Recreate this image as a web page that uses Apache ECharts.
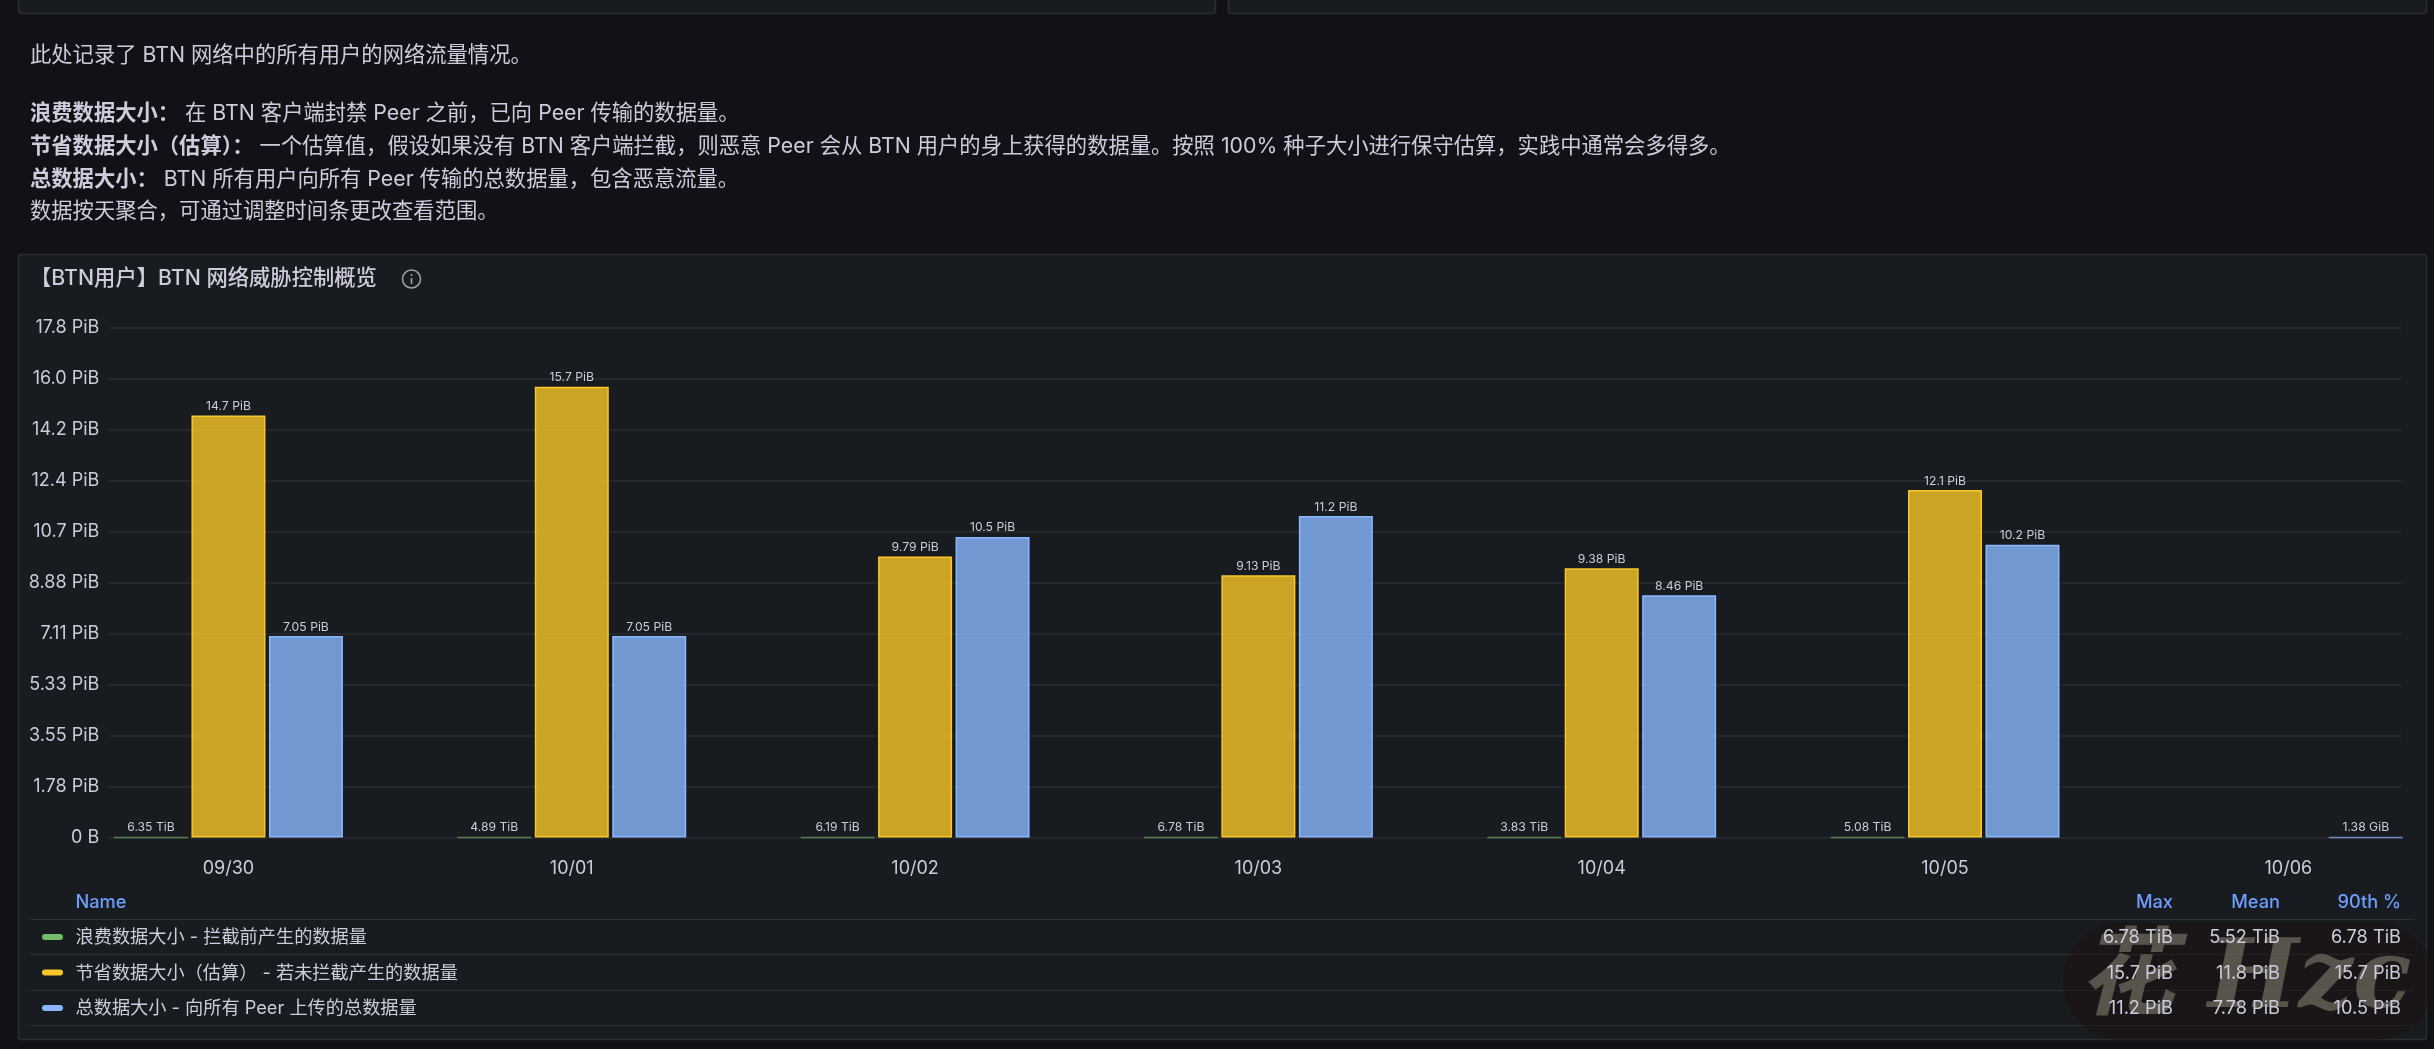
<!DOCTYPE html>
<html>
<head>
<meta charset="utf-8">
<style>html,body{margin:0;padding:0;background:#111217;overflow:hidden}#c{width:2434px;height:1049px}</style>
<script src="https://cdn.jsdelivr.net/npm/echarts@6/dist/echarts.min.js"></script>
</head>
<body>
<div id="c"></div>
<script>
const categories = ['09/30','10/01','10/02','10/03','10/04','10/05','10/06'];
const wastedTiB = [6.35,4.89,6.19,6.78,3.83,5.08,null];
const savedPiB = [14.7,15.7,9.79,9.13,9.38,12.1,null];
const totalPiB = [7.02,7.02,10.47,11.2,8.44,10.2,0.00000132];
const wastedLabels = ['6.35 TiB','4.89 TiB','6.19 TiB','6.78 TiB','3.83 TiB','5.08 TiB',''];
const savedLabels = ['14.7 PiB','15.7 PiB','9.79 PiB','9.13 PiB','9.38 PiB','12.1 PiB',''];
const totalLabels = ['7.05 PiB','7.05 PiB','10.5 PiB','11.2 PiB','8.46 PiB','10.2 PiB','1.38 GiB'];
const yTickLabels = ['0 B','1.78 PiB','3.55 PiB','5.33 PiB','7.11 PiB','8.88 PiB','10.7 PiB','12.4 PiB','14.2 PiB','16.0 PiB','17.8 PiB'];
const legendNames = ['浪费数据大小 - 拦截前产生的数据量','节省数据大小\uFF08估算\uFF09 - 若未拦截产生的数据量','总数据大小 - 向所有 Peer 上传的总数据量'];
const legendMax = ['6.78 TiB','15.7 PiB','11.2 PiB'];
const legendMean = ['5.52 TiB','11.8 PiB','7.78 PiB'];
const legendP90 = ['6.78 TiB','15.7 PiB','10.5 PiB'];
const legendHeaders = ['Name','Max','Mean','90th %'];
const intro = [
  [56, '', '此处记录了 BTN 网络中的所有用户的网络流量情况。'],
  [114, '浪费数据大小\uFF1A', ' 在 BTN 客户端封禁 Peer 之前\uFF0C已向 Peer 传输的数据量。'],
  [147, '节省数据大小\uFF08估算\uFF09\uFF1A', ' 一个估算值\uFF0C假设如果没有 BTN 客户端拦截\uFF0C则恶意 Peer 会从 BTN 用户的身上获得的数据量。按照 100% 种子大小进行保守估算\uFF0C实践中通常会多得多。'],
  [180, '总数据大小\uFF1A', ' BTN 所有用户向所有 Peer 传输的总数据量\uFF0C包含恶意流量。'],
  [212, '', '数据按天聚合\uFF0C可通过调整时间条更改查看范围。']
];
const panelTitle = '【BTN用户】BTN 网络威胁控制概览';
const yStep = 1.7763568394;

const FONT = "Inter, 'Noto Sans CJK SC', sans-serif";
const TEXT = '#ccccdc';
const GRIDC = 'rgba(204,204,220,0.10)';
const COLORS = ['#73bf69','#f9c728','#8ab8ff'];
const FILLS = ['rgba(115,191,105,0.8)','rgba(249,199,40,0.8)','rgba(138,184,255,0.8)'];

const gfx = [];
const panel = (x,y,w,h) => gfx.push({type:'rect',z:-20,shape:{x:x+.5,y:y+.5,width:w,height:h,r:3},style:{fill:'#181b1f',stroke:'#2b2d33',lineWidth:1.5}});
panel(18,-20,1197,33);
panel(1228,-20,1198,33);
panel(18,254,2408,785);
intro.forEach(r => gfx.push({type:'text',z:10,x:30,y:r[0],style:{
  text:(r[1]?'{b|'+r[1]+'}':'')+'{n|'+r[2]+'}',verticalAlign:'middle',
  rich:{b:{fontFamily:FONT,fontSize:21.3,fontWeight:600,fill:TEXT,color:TEXT},n:{fontFamily:FONT,fontSize:21.3,fontWeight:400,fill:TEXT,color:TEXT}}
}}));
gfx.push({type:'text',z:10,x:30,y:279,style:{text:panelTitle,font:"500 21.3px "+FONT,fill:TEXT,verticalAlign:'middle'}});
gfx.push({type:'circle',z:10,shape:{cx:411.5,cy:279,r:9},style:{fill:'none',stroke:'#a0a1aa',lineWidth:1.5}});
gfx.push({type:'rect',z:10,shape:{x:410.7,y:278,width:1.6,height:6},style:{fill:'#a0a1aa'}});
gfx.push({type:'circle',z:10,shape:{cx:411.5,cy:275,r:1},style:{fill:'#a0a1aa'}});

const sepY = [919.5,954.5,990.5,1025.5];
sepY.forEach(y => gfx.push({type:'rect',z:1,shape:{x:30,y:y-.5,width:2384,height:1},style:{fill:'rgba(204,204,220,0.12)'}}));
const rowY = [937,972.5,1008];
const TEXTDY = 1;
const colR = [2173,2280,2401];
const label = (s,x,y,align,fill,w) => gfx.push({type:'text',z:60,x:x,y:y+TEXTDY,style:{text:s,font:(w||400)+" 18.2px "+FONT,fill:fill||TEXT,align:align,verticalAlign:'middle'}});
label(legendHeaders[0],75.5,902,'left','#6e9fff',500);
colR.forEach((x,i)=>label(legendHeaders[i+1],x,902,'right','#6e9fff',500));
legendNames.forEach((n,i)=>{
  gfx.push({type:'rect',z:10,shape:{x:42,y:rowY[i]-3,width:21,height:6,r:3},style:{fill:COLORS[i]}});
  label(n,75.5,rowY[i],'left');
  label(legendMax[i],colR[0],rowY[i],'right');
  label(legendMean[i],colR[1],rowY[i],'right');
  label(legendP90[i],colR[2],rowY[i],'right');
});
// watermark
gfx.push({type:'rect',z:40,shape:{x:2063,y:923,width:371,height:117,r:58},style:{fill:'rgba(28,18,18,0.5)'}});
gfx.push({type:'text',z:41,x:2245,y:982,style:{text:'花 Hzc',font:"italic 700 96px 'DejaVu Serif','Noto Sans CJK SC',serif",fill:'rgba(150,145,125,0.5)',align:'center',verticalAlign:'middle'}});

const mk = (name,vals,idx,labels,tinyBorder) => ({
  type:'bar',name:name,
  data:vals.map((v,i)=>({value:[i,v],itemStyle:(v!=null&&v<0.05)?{borderColor:tinyBorder,borderWidth:1.5}:undefined})),
  barWidth:74,barGap:'4.7%',
  itemStyle:{color:FILLS[idx],borderColor:COLORS[idx],borderWidth:1.5},
  label:{show:true,position:'top',distance:3,fontFamily:FONT,fontSize:12.2,color:TEXT,
    formatter:p=>labels[p.dataIndex]},
  emphasis:{disabled:true},animation:false
});

const chart = echarts.init(document.getElementById('c'),null,{renderer:'canvas'});
chart.setOption({
  backgroundColor:'#111217',animation:false,
  grid:{left:108.3,width:2293.3,top:327.5,height:510,containLabel:false},
  xAxis:{type:'value',min:-0.35,max:6.33,interval:0.05,
    axisLine:{show:false},axisTick:{show:false},splitLine:{show:false},
    axisLabel:{margin:22,fontFamily:FONT,fontSize:18,color:TEXT,hideOverlap:false,
      formatter:v=>{const r=Math.round(v);return Math.abs(v-r)<1e-6&&categories[r]?categories[r]:'';}}},
  yAxis:{type:'value',min:0,max:yStep*10,interval:yStep,
    axisLine:{show:false},axisTick:{show:false},
    splitLine:{show:true,lineStyle:{color:GRIDC,width:1.5}},
    axisLabel:{margin:9,fontFamily:FONT,fontSize:18,color:TEXT,
      formatter:v=>yTickLabels[Math.round(v/yStep)]}},
  series:[
    mk(legendNames[0],wastedTiB.map(v=>v==null?null:v/1024),0,wastedLabels,'rgba(115,191,105,0.6)'),
    mk(legendNames[1],savedPiB,1,savedLabels,COLORS[1]),
    mk(legendNames[2],totalPiB,2,totalLabels,'rgba(138,184,255,0.7)')
  ],
  graphic:{elements:gfx}
});
</script>
</body>
</html>
